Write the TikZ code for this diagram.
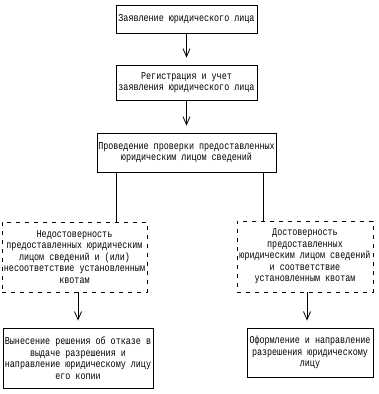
\documentclass[tikz,border=0pt]{standalone}
\usepackage{fontspec}
\setmainfont[FakeStretch=0.8]{Liberation Mono}
\usepackage{tikz}
\usetikzlibrary{arrows.meta, positioning, calc}

\tikzset{
  blk/.style={draw, line width=0.8pt, align=center, inner sep=1pt,
              font=\fontsize{10.5pt}{11.5pt}\selectfont},
  dblk/.style={blk, dash pattern=on 4pt off 5pt},
  arr/.style={line width=0.8pt, -{Straight Barb[length=8pt,width=7pt]}, shorten >=7pt},
  lnk/.style={line width=0.8pt}
}

\begin{document}
\begin{tikzpicture}[x=1pt, y=-1pt]
    \useasboundingbox (0,0) rectangle (378,394);
    % steps
    \node[blk, minimum width=141pt, minimum height=28pt] (zayav) at (186.5,19)
      {Заявление юридического лица};
    \node[blk, minimum width=141pt, minimum height=35pt] (reg) at (186.5,82.5)
      {Регистрация и учет\\заявления юридического лица};
    \node[blk, minimum width=179pt, minimum height=39pt] (prov) at (186.5,152.5)
      {Проведение проверки предоставленных\\юридическим лицом сведений};
    % results of check
    \node[dblk, minimum width=145pt, minimum height=70pt] (nedost) at (74.5,257)
      {Недостоверность\\предоставленных юридическим\\лицом сведений и (или)\\несоответствие установленным\\квотам};
    \node[dblk, minimum width=136pt, minimum height=71pt] (dost) at (305,256.5)
      {Достоверность\\предоставленных\\юридическим лицом сведений\\и соответствие\\установленным квотам};
    % decisions
    \node[blk, minimum width=150pt, minimum height=60pt] (otkaz) at (78,358)
      {Вынесение решения об отказе в\\выдаче разрешения и\\направление юридическому лицу\\его копии};
    \node[blk, minimum width=126pt, minimum height=49pt] (razr) at (310,352.5)
      {Оформление и направление\\разрешения юридическому\\лицу};

    \draw[arr] (zayav) -- (reg);
    \draw[arr] (reg) -- (prov);
    \draw[lnk] ([xshift=20pt]prov.south west) -- ([xshift=20pt]prov.south west |- nedost.north);
    \draw[lnk] ([xshift=-13pt]prov.south east) -- ([xshift=-13pt]prov.south east |- dost.north);
    \draw[arr] (otkaz.north |- nedost.south) -- (otkaz.north);
    \draw[arr] ([xshift=-3pt]razr.north |- dost.south) -- ([xshift=-3pt]razr.north);
\end{tikzpicture}
\end{document}
